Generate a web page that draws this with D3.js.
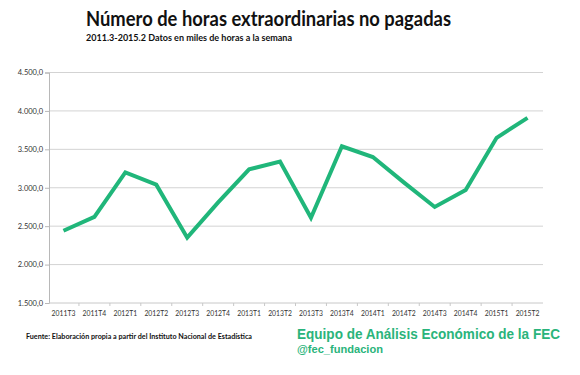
<!DOCTYPE html>
<html>
<head>
<meta charset="utf-8">
<script src="https://cdn.jsdelivr.net/npm/d3@7"></script>
<style>
  body { margin: 0; background: #fff; }
  svg { display: block; }
</style>
</head>
<body>
<svg width="580" height="375"></svg>
<script>

let quarters = ['2011T3', '2011T4', '2012T1', '2012T2', '2012T3', '2012T4', '2013T1', '2013T2',
                '2013T3', '2013T4', '2014T1', '2014T2', '2014T3', '2014T4', '2015T1', '2015T2'];
let hours = [2440, 2620, 3200, 3040, 2350, 2810, 3240, 3340,
             2610, 3540, 3400, 3070, 2750, 2970, 3650, 3910];
let yTicks = [1500, 2000, 2500, 3000, 3500, 4000, 4500];

let svg = d3.select('svg');
let fmt = d3.formatLocale({decimal: ',', thousands: '.', grouping: [3], currency: ['', '']}).format(',.1f');

let xScale = d3.scaleBand()
               .domain(quarters)
               .range([48, 543]);

let yScale = d3.scaleLinear()
               .domain([1500, 4500])
               .range([303, 72.5]);

// gridlines
svg.append('g')
   .selectAll('line')
   .data(yTicks.slice(1))
   .enter()
   .append('line')
   .attr('x1', 49)
   .attr('x2', 543)
   .attr('y1', d => yScale(d))
   .attr('y2', d => yScale(d))
   .attr('stroke', '#d3d3d3')
   .attr('stroke-width', 1);

let yAxis = d3.axisLeft(yScale)
              .tickValues(yTicks)
              .tickFormat(fmt)
              .tickSize(4);

let yG = svg.append('g')
   .attr('transform', 'translate(49,0)')
   .call(yAxis);
yG.select('.domain').attr('stroke', '#b8b8b8');
yG.selectAll('.tick line').attr('stroke', '#b8b8b8');
yG.selectAll('text')
  .attr('x', -6)
  .style('font-family', 'Lato, sans-serif')
  .style('font-size', '7.5px')
  .attr('fill', '#333');

let xAxis = d3.axisBottom(xScale)
              .tickSize(0);

let xG = svg.append('g')
   .attr('transform', 'translate(0,303)')
   .call(xAxis);
xG.select('.domain').attr('stroke', '#c8c8c8').attr('d', 'M49,0H543');
xG.selectAll('text')
  .attr('y', 8)
  .style('font-family', 'Lato, sans-serif')
  .style('font-size', '6.8px')
  .attr('fill', '#333');

// small ticks between categories
xG.selectAll('line.sep')
  .data(quarters.slice(1))
  .enter()
  .append('line')
  .attr('class', 'sep')
  .attr('x1', d => xScale(d))
  .attr('x2', d => xScale(d))
  .attr('y1', 0)
  .attr('y2', 3)
  .attr('stroke', '#c8c8c8');

let hourLine = d3.line()
                 .x(function(d, i) {
                   return xScale(quarters[i]) + xScale.bandwidth() / 2;
                 })
                 .y(function(d) {
                   return yScale(d);
                 });

svg.append('path')
   .attr('d', hourLine(hours))
   .attr('fill', 'none')
   .attr('stroke', '#20b67a')
   .attr('stroke-width', 4)
   .attr('stroke-linejoin', 'miter');

// titles
svg.append('text')
   .attr('x', 86)
   .attr('y', 26)
   .attr('textLength', 365)
   .attr('lengthAdjust', 'spacingAndGlyphs')
   .style('font-family', 'Lato, sans-serif')
   .style('font-weight', 'bold')
   .style('font-size', '21px')
   .attr('fill', '#111')
   .text('Número de horas extraordinarias no pagadas');

svg.append('text')
   .attr('x', 86)
   .attr('y', 41)
   .attr('textLength', 206)
   .attr('lengthAdjust', 'spacingAndGlyphs')
   .style('font-family', 'Lato, sans-serif')
   .style('font-weight', 'bold')
   .style('font-size', '10px')
   .attr('fill', '#111')
   .text('2011.3-2015.2 Datos en miles de horas a la semana');

svg.append('text')
   .attr('x', 26)
   .attr('y', 339)
   .attr('textLength', 226)
   .attr('lengthAdjust', 'spacingAndGlyphs')
   .style('font-family', 'Lato, sans-serif')
   .style('font-weight', 'bold')
   .style('font-size', '7.5px')
   .attr('fill', '#111')
   .text('Fuente: Elaboración propia a partir del Instituto Nacional de Estadística');

svg.append('text')
   .attr('x', 297)
   .attr('y', 339)
   .attr('textLength', 263)
   .attr('lengthAdjust', 'spacingAndGlyphs')
   .style('font-family', 'Liberation Sans, Arial, sans-serif')
   .style('font-weight', 'bold')
   .style('font-size', '15px')
   .attr('fill', '#2ab47b')
   .text('Equipo de Análisis Económico de la FEC');

svg.append('text')
   .attr('x', 297)
   .attr('y', 353)
   .attr('textLength', 86)
   .attr('lengthAdjust', 'spacingAndGlyphs')
   .style('font-family', 'Liberation Sans, Arial, sans-serif')
   .style('font-weight', 'bold')
   .style('font-size', '10.5px')
   .attr('fill', '#2ab47b')
   .text('@fec_fundacion');

</script>
</body>
</html>
